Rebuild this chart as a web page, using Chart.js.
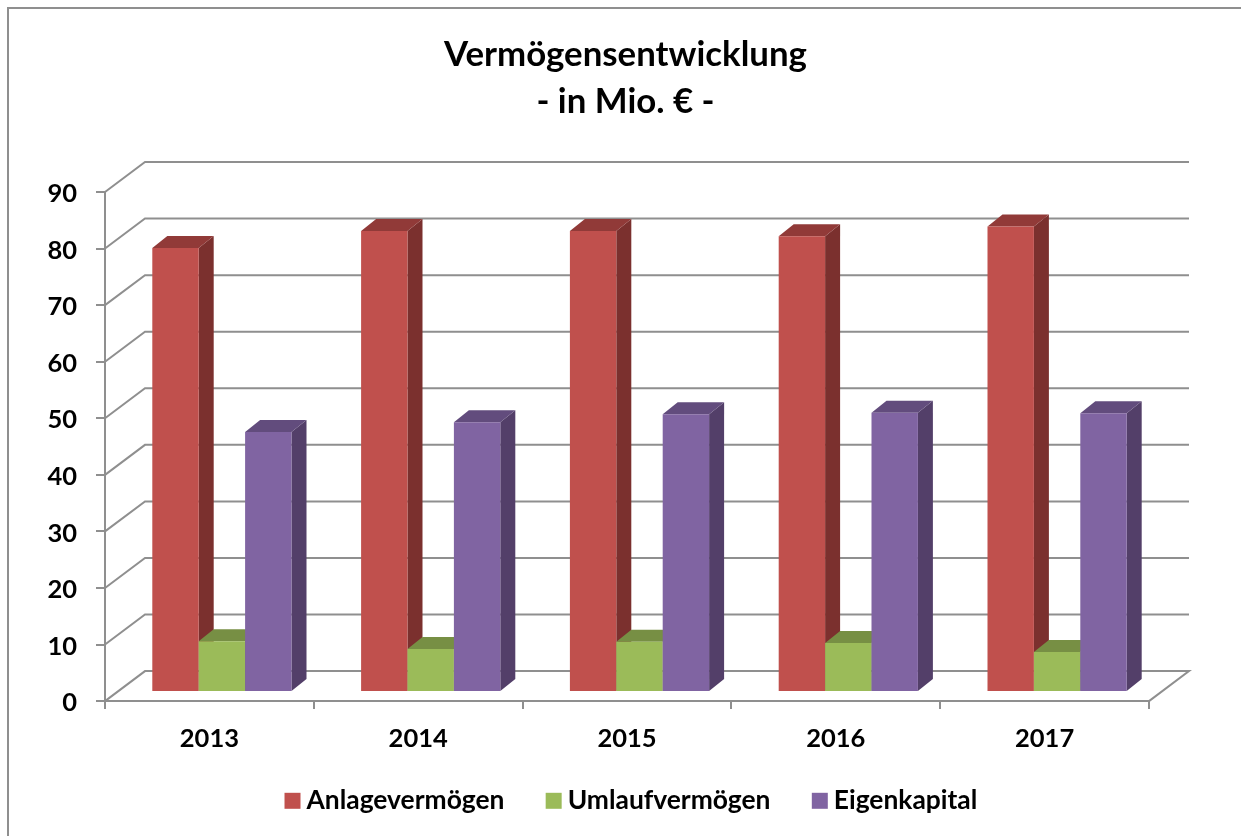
<!DOCTYPE html>
<html lang="de"><head><meta charset="utf-8">
<style>html,body{margin:0;padding:0;background:#fff;overflow:hidden}canvas{display:block}</style>
<script src="https://cdn.jsdelivr.net/npm/chart.js@4"></script></head>
<body><canvas id="c" width="1241" height="836"></canvas>
<script>
const categories = ['2013','2014','2015','2016','2017'];
const anlagevermoegen = [78.5,81.5,81.5,80.6,82.3];
const umlaufvermoegen = [9.0,7.6,8.9,8.7,7.1];
const eigenkapital = [46.0,47.7,49.1,49.4,49.3];
const titleLines = ['Vermögensentwicklung','- in Mio. € -'];

const FONT = 'Lato, Carlito, sans-serif';
const GRID = '#8f8f8f';
const WALL = {dx:40, dy:-30};
const BAR = {dx:12.5, dy:-9, sideX:15, sideY:-12};
const LEGEND_SHIFT = {x:9, y:-12};
const faces = {
  '#C0504D':{top:'#913A38', side:'#7B302E'},
  '#9BBB59':{top:'#778F44', side:'#5F7338'},
  '#8064A2':{top:'#624C7D', side:'#533F69'}
};
function poly(ctx, pts, color){
  ctx.beginPath();
  pts.forEach((p,i)=> i?ctx.lineTo(p[0],p[1]):ctx.moveTo(p[0],p[1]));
  ctx.closePath(); ctx.fillStyle=color; ctx.fill();
}
const scene = {
  id:'scene',
  beforeDraw(chart){
    const c=chart.ctx; c.save(); c.strokeStyle=GRID; c.lineWidth=2;
    c.strokeRect(8,8,3000,3000); c.restore();
  },
  afterLayout(chart){
    const l=chart.legend; l.left+=LEGEND_SHIFT.x; l.right+=LEGEND_SHIFT.x;
    l.top+=LEGEND_SHIFT.y; l.bottom+=LEGEND_SHIFT.y;
  },
  beforeDatasetsDraw(chart){
    const c=chart.ctx, y=chart.scales.y, a=chart.chartArea;
    c.save(); c.strokeStyle=GRID; c.lineWidth=2; c.lineJoin='miter';
    y.ticks.forEach(t=>{
      const py=y.getPixelForValue(t.value);
      c.beginPath(); c.moveTo(a.left,py); c.lineTo(a.left+WALL.dx,py+WALL.dy);
      c.lineTo(a.right+WALL.dx,py+WALL.dy);
      if(t.value===0) c.lineTo(a.right,py);
      c.stroke();
    });
    c.restore();
    // series are painted left to right so each bar covers its neighbour's side face
    chart.data.datasets.forEach((ds,i)=>{
      const meta=chart.getDatasetMeta(i), f=faces[ds.backgroundColor];
      c.save(); c.translate(BAR.dx,BAR.dy);
      meta.data.forEach(b=>{
        const L=b.x-b.width/2,R=b.x+b.width/2,T=b.y,B=b.base,sx=BAR.sideX,sy=BAR.sideY;
        poly(c,[[R,T],[R+sx,T+sy],[R+sx,B+sy],[R,B]],f.side);
        poly(c,[[L,T],[L+sx,T+sy],[R+sx,T+sy],[R,T]],f.top);
      });
      meta.controller.draw();
      c.restore();
    });
  },
  beforeDatasetDraw(){ return false; }
};
const base=Chart.defaults.plugins.legend.labels.generateLabels;
new Chart(document.getElementById('c'),{
  type:'bar',
  plugins:[scene],
  data:{labels:categories,datasets:[
    {label:'Anlagevermögen',data:anlagevermoegen,backgroundColor:'#C0504D'},
    {label:'Umlaufvermögen',data:umlaufvermoegen,backgroundColor:'#9BBB59'},
    {label:'Eigenkapital',data:eigenkapital,backgroundColor:'#8064A2'}
  ]},
  options:{
    responsive:false,animation:false,
    layout:{padding:{left:10,top:0,right:0,bottom:0}},
    datasets:{bar:{categoryPercentage:2/3,barPercentage:1,borderWidth:0}},
    plugins:{
      tooltip:{enabled:false},
      title:{display:true,text:titleLines,color:'#000',
        font:{family:FONT,size:34.8,weight:'700',lineHeight:47/34.8},padding:{top:31,bottom:67}},
      legend:{display:true,position:'bottom',
        labels:{color:'#000',font:{family:FONT,size:26.4,weight:'700'},boxWidth:1.6,boxHeight:1.6,padding:48.5,
          generateLabels(chart){
            return base(chart).map(i=>Object.assign(i,{strokeStyle:i.fillStyle,lineWidth:14.4,lineJoin:'miter'}));
          }}}
    },
    scales:{
      x:{offset:true,
        grid:{display:true,drawOnChartArea:false,offset:true,color:GRID,lineWidth:2,tickLength:8,tickColor:GRID},
        border:{display:true,color:GRID,width:2},
        ticks:{color:'#000',font:{family:FONT,size:25.5,weight:'700'},padding:14.5,maxRotation:0},
        afterFit(s){s.height=50;}},
      y:{min:0,max:90,
        grid:{display:true,drawOnChartArea:false,color:GRID,lineWidth:2,tickLength:9,tickColor:GRID},
        border:{display:true,color:GRID,width:2},
        ticks:{stepSize:10,color:'#000',font:{family:FONT,size:25.5,weight:'700'},padding:19,labelOffset:2},
        afterFit(s){s.width=95;}},
      yEdge:{position:'right',display:true,min:0,max:90,
        grid:{display:false},border:{display:false},ticks:{display:false},
        afterFit(s){s.width=92;}}
    }
  }
});
</script></body></html>
